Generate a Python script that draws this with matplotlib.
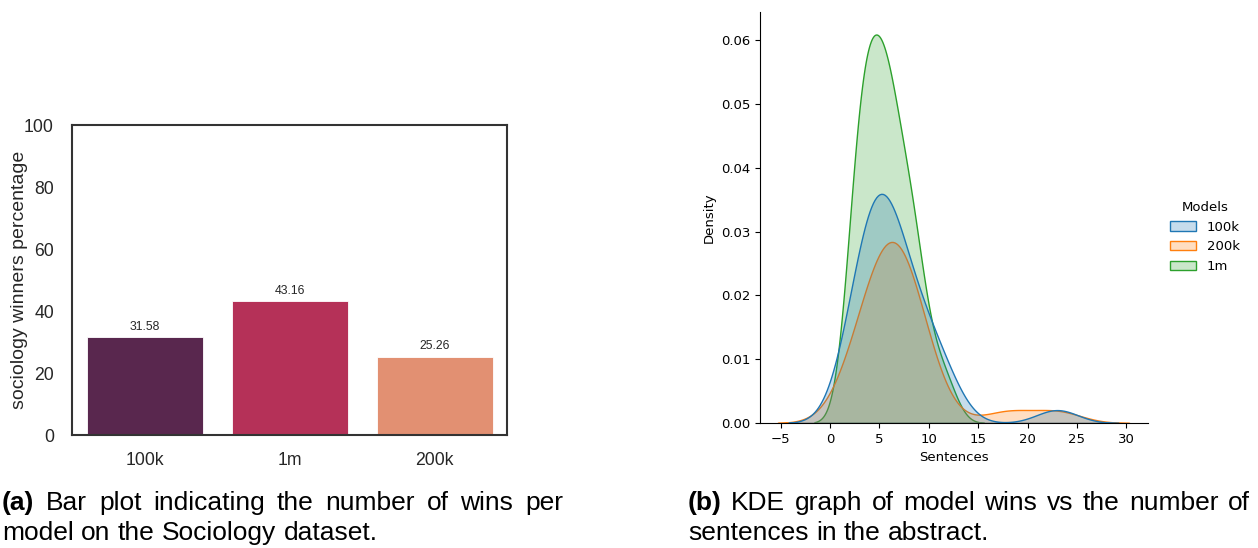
#Recreate two-panel figure: bar plot of wins (a) and KDE of sentences (b)
import numpy as np
import pandas as pd
import matplotlib
matplotlib.use('Agg')
import matplotlib.pyplot as plt
import seaborn as sns
from matplotlib.patches import Patch

#bar plot data (percentage of wins per model)
bar_models = ['100k', '1m', '200k']
win_pct = [31.58, 43.16, 25.26]

#sentence counts of winning abstracts, per model (value, how many)
sent_vals_100k = [2, 3, 4, 5, 6, 7, 8, 9, 10, 11, 12, 23]
sent_cnts_100k = [2, 3, 4, 5, 4, 3, 2, 2, 1, 2, 1, 1]
sent_vals_200k = [2, 3, 4, 5, 6, 7, 8, 9, 10, 18, 23]
sent_cnts_200k = [1, 2, 2, 3, 4, 4, 3, 2, 1, 1, 1]
sent_vals_1m = [2, 3, 4, 5, 6, 7, 8, 9, 10, 11, 12]
sent_cnts_1m = [3, 6, 6, 6, 6, 4, 4, 3, 1, 1, 1]

kde_models = ['100k', '200k', '1m']
kde_colors = ['#1f77b4', '#ff7f0e', '#2ca02c']

W, H = 1258, 548
fig = plt.figure(figsize=(W / 100, H / 100), dpi=100)

#--- panel (a): bar plot
dark = '#262626'
ax1 = fig.add_axes([72 / W, 1 - 435 / H, 435 / W, 310 / H])
bar_colors = [sns.desaturate(c, 0.75) for c in sns.color_palette('rocket', 3)]
ax1.bar(range(len(bar_models)), win_pct, width=0.8, color=bar_colors,
        edgecolor='white', linewidth=0.6)
for i, v in enumerate(win_pct):
    ax1.text(i, v + 2.4, f'{v:.2f}', ha='center', va='baseline',
             fontsize=8.8, family='Liberation Sans', color=dark)
ax1.set_xlim(-0.5, 2.5)
ax1.set_ylim(0, 100)
ax1.set_yticks(range(0, 101, 20))
ax1.set_xticks(range(len(bar_models)))
ax1.set_xticklabels(bar_models)
for s in ax1.spines.values():
    s.set_color('#333333')
    s.set_linewidth(1.5)
ax1.tick_params(axis='both', length=0, labelsize=12.7, colors=dark)
ax1.tick_params(axis='y', pad=13)
ax1.tick_params(axis='x', pad=12)
for lbl in ax1.get_xticklabels() + ax1.get_yticklabels():
    lbl.set_family('Liberation Sans')
ax1.set_ylabel('sociology winners percentage', fontsize=14,
               family='Liberation Sans', color=dark, labelpad=-3)

#--- panel (b): KDE
frames = []
for m, vals, cnts in [('100k', sent_vals_100k, sent_cnts_100k),
                      ('200k', sent_vals_200k, sent_cnts_200k),
                      ('1m', sent_vals_1m, sent_cnts_1m)]:
    frames.append(pd.DataFrame({'Sentences': np.repeat(vals, cnts), 'Models': m}))
df = pd.concat(frames, ignore_index=True)

ax2 = fig.add_axes([760 / W, 1 - 423 / H, 388 / W, 411 / H])
sns.kdeplot(data=df, x='Sentences', hue='Models', hue_order=kde_models,
            palette=kde_colors, fill=True, ax=ax2, legend=False)
ax2.spines['top'].set_visible(False)
ax2.spines['right'].set_visible(False)
ax2.set_xlim(-7.1, 32.2)
ax2.set_ylim(0, 0.0644)
ax2.set_xticks(range(-5, 31, 5))
ax2.set_yticks(np.arange(0, 0.061, 0.01))
ax2.yaxis.set_major_formatter(matplotlib.ticker.FormatStrFormatter('%.2f'))
ax2.tick_params(labelsize=9.5)
ax2.set_xlabel('Sentences', fontsize=9.5)
ax2.set_ylabel('Density', fontsize=9.5)

handles = [Patch(facecolor=matplotlib.colors.to_rgba(c, 0.25), edgecolor=c)
           for c in kde_colors]
fig.legend(handles, kde_models, title='Models', loc='center left',
           bbox_to_anchor=(1158 / W, 1 - 237 / H), frameon=False,
           fontsize=9.5, title_fontsize=9.5)

#--- captions (first line justified like the paper)
renderer = fig.canvas.get_renderer()
cap_size = 19


def caption_line(x0, x1, y, words, bold_first):
    texts = []
    for k, w in enumerate(words):
        t = fig.text(0, 1 - y / H, w, fontsize=cap_size, family='Liberation Sans',
                     fontweight='bold' if (bold_first and k == 0) else 'normal',
                     va='baseline', ha='left')
        texts.append(t)
    widths = [t.get_window_extent(renderer).width for t in texts]
    if x1 is None:
        gap = fig.text(0, 0, 'a a', fontsize=cap_size, family='Liberation Sans')
        g2 = fig.text(0, 0, 'aa', fontsize=cap_size, family='Liberation Sans')
        space = gap.get_window_extent(renderer).width - g2.get_window_extent(renderer).width
        gap.remove()
        g2.remove()
    else:
        space = (x1 - x0 - sum(widths)) / (len(words) - 1)
    x = x0
    for t, w in zip(texts, widths):
        t.set_x(x / W)
        x += w + space


caption_line(2, 563, 510, '(a) Bar plot indicating the number of wins per'.split(), True)
caption_line(2, None, 540, 'model on the Sociology dataset.'.split(), False)
caption_line(688, 1250, 510, '(b) KDE graph of model wins vs the number of'.split(), True)
caption_line(688, None, 540, 'sentences in the abstract.'.split(), False)

fig.savefig('out.png', dpi=100)
